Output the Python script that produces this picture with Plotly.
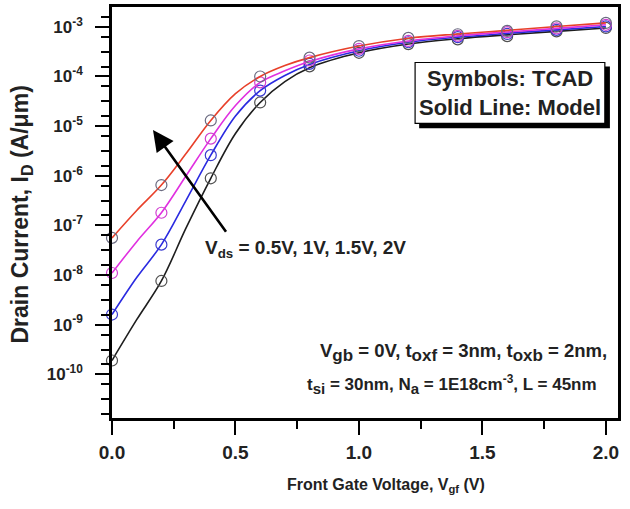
import plotly.graph_objects as go

# Front-gate transfer characteristics, I_D vs V_gf, for four drain biases
vds_labels = ["0.5V", "1V", "1.5V", "2V"]

# TCAD samples
vgf_tcad = [0.0, 0.2, 0.4, 0.6, 0.8, 1.0, 1.2, 1.4, 1.6, 1.8, 2.0]
id_tcad_05 = [1.9e-10, 7.6e-9, 8.9e-7, 3.0e-5, 1.6e-4, 3.0e-4, 4.5e-4, 5.6e-4, 6.5e-4, 8.1e-4, 9.5e-4]
id_tcad_10 = [1.6e-9, 4.1e-8, 2.6e-6, 5.2e-5, 1.8e-4, 3.3e-4, 4.9e-4, 6.2e-4, 7.2e-4, 8.7e-4, 1.02e-3]
id_tcad_15 = [1.1e-8, 1.8e-7, 5.6e-6, 7.6e-5, 2.1e-4, 3.6e-4, 5.2e-4, 6.6e-4, 7.8e-4, 9.3e-4, 1.1e-3]
id_tcad_20 = [5.6e-8, 6.5e-7, 1.3e-5, 1.0e-4, 2.4e-4, 4.1e-4, 6.0e-4, 7.1e-4, 8.3e-4, 1.02e-3, 1.2e-3]

# Analytical model
vgf_model = [0.0, 0.1, 0.2, 0.3, 0.4, 0.5, 0.6, 0.7, 0.8, 1.0, 1.2, 1.4, 1.6, 1.8, 2.0]
id_model_05 = [1.9e-10, 1.26e-9, 7.6e-9, 8.9e-8, 8.9e-7, 7.1e-6, 3.0e-5, 7.9e-5, 1.5e-4, 3.0e-4, 4.5e-4, 5.75e-4, 6.9e-4, 8.1e-4, 9.5e-4]
id_model_10 = [1.6e-9, 8.9e-9, 4.1e-8, 3.2e-7, 2.6e-6, 1.6e-5, 5.2e-5, 1.05e-4, 1.75e-4, 3.3e-4, 4.9e-4, 6.2e-4, 7.4e-4, 8.7e-4, 1.02e-3]
id_model_15 = [1.1e-8, 4.7e-8, 1.8e-7, 1.0e-6, 5.6e-6, 2.6e-5, 7.6e-5, 1.3e-4, 2.0e-4, 3.6e-4, 5.2e-4, 6.6e-4, 7.9e-4, 9.3e-4, 1.1e-3]
id_model_20 = [5.6e-8, 2.0e-7, 6.5e-7, 2.8e-6, 1.3e-5, 4.5e-5, 1.0e-4, 1.66e-4, 2.4e-4, 4.1e-4, 5.9e-4, 7.2e-4, 8.5e-4, 1.02e-3, 1.2e-3]

line_colors = ["#1e1e1e", "#2a2ae0", "#e030e0", "#e8402a"]
marker_colors = ["#505050", "#3a3ad0", "#d040d0", "#6a6a80"]

x_ticks = [0.0, 0.5, 1.0, 1.5, 2.0]
y_exponents = [-10, -9, -8, -7, -6, -5, -4, -3]

FONT = "Liberation Sans, Arial, sans-serif"
TXT = "#222222"


def sub(s, px):
    return f'<sub><span style="font-size:{px}px">{s}</span></sub>'


fig = go.Figure()

model_sets = [id_model_05, id_model_10, id_model_15, id_model_20]
tcad_sets = [id_tcad_05, id_tcad_10, id_tcad_15, id_tcad_20]

for lab, ym, yt, lc, mc in zip(vds_labels, model_sets, tcad_sets, line_colors, marker_colors):
    fig.add_trace(go.Scatter(
        x=vgf_model, y=ym, mode="lines", name=f"Model {lab}",
        line=dict(color=lc, width=1.6, shape="spline", smoothing=1.0),
        showlegend=False,
    ))
    fig.add_trace(go.Scatter(
        x=vgf_tcad, y=yt, mode="markers", name=f"TCAD {lab}",
        marker=dict(symbol="circle-open", size=11, color=mc, line=dict(width=1.2, color=mc)),
        cliponaxis=False, showlegend=False,
    ))

# minor ticks between decades
minor_y = []
for e in range(-11, -2):
    for f in (0.2, 0.5, 0.8):
        v = 10 ** (e + f)
        if 10 ** -10.88 < v < 10 ** -2.6:
            minor_y.append(v)

fig.update_xaxes(
    range=[0, 2.049],
    showline=True, linewidth=2.5, linecolor="black", mirror=True,
    showgrid=False, zeroline=False,
    ticks="outside", ticklen=14, tickwidth=2, tickcolor="black",
    tickvals=x_ticks, ticktext=[f"{v:.1f}" for v in x_ticks],
    tickfont=dict(family=FONT, size=19, color=TXT, weight="bold"),
    ticklabelstandoff=1,
    minor=dict(ticks="outside", ticklen=8, tickwidth=2, tickcolor="black", dtick=0.25, tick0=0),
)
fig.update_yaxes(
    type="log", range=[-10.88, -2.6],
    showline=True, linewidth=2.5, linecolor="black", mirror=True,
    showgrid=False, zeroline=False,
    ticks="outside", ticklen=14, tickwidth=2, tickcolor="black",
    tickvals=[10 ** e for e in y_exponents],
    ticktext=[f"10<sup>{e}</sup>" for e in y_exponents],
    tickfont=dict(family=FONT, size=17, color=TXT, weight="bold"),
    ticklabelstandoff=9,
    minor=dict(ticks="outside", ticklen=8, tickwidth=2, tickcolor="black",
               tickmode="array", tickvals=minor_y),
)

annotations = [
    dict(text="Front Gate Voltage, V<sub>gf</sub> (V)", x=0.5415, y=-0.164,
         xref="paper", yref="paper", xanchor="center", yanchor="middle", showarrow=False,
         font=dict(family=FONT, size=16, color=TXT, weight="bold")),
    dict(text="Drain Current, I<sub>D</sub> (A/μm)", x=-0.178, y=0.495,
         xref="paper", yref="paper", xanchor="center", yanchor="middle",
         showarrow=False, textangle=-90,
         font=dict(family=FONT, size=23, color=TXT, weight="bold")),
    dict(text="Symbols: TCAD<br>Solid Line: Model", x=0.787, y=0.791,
         xref="paper", yref="paper", xanchor="center", yanchor="middle",
         showarrow=False, align="center",
         font=dict(family=FONT, size=22, color=TXT, weight="bold")),
    dict(text="V<sub>ds</sub> = 0.5V, 1V, 1.5V, 2V", x=0.180, y=0.411,
         xref="paper", yref="paper", xanchor="left", yanchor="middle", showarrow=False,
         font=dict(family=FONT, size=19, color=TXT, weight="bold")),
    dict(text=f"V{sub('gb', 17)} = 0V, t{sub('oxf', 17)} = 3nm, t{sub('oxb', 17)} = 2nm,",
         x=0.407, y=0.160, xref="paper", yref="paper", xanchor="left", yanchor="middle",
         showarrow=False, font=dict(family=FONT, size=18.5, color=TXT, weight="bold")),
    dict(text=f"t{sub('si', 15)} = 30nm, N{sub('a', 15)} = 1E18cm<sup>-3</sup>, L = 45nm",
         x=0.381, y=0.081, xref="paper", yref="paper", xanchor="left", yanchor="middle",
         showarrow=False, font=dict(family=FONT, size=17, color=TXT, weight="bold")),
    # arrow indicating increasing drain bias
    dict(text="", x=0.166, y=-5.08, xref="x", yref="y",
         ax=0.466, ay=-7.16, axref="x", ayref="y",
         showarrow=True, arrowhead=2, arrowsize=1.6, arrowwidth=2.6, arrowcolor="black"),
]

shapes = [
    dict(type="rect", xref="paper", yref="paper", x0=0.607, x1=0.984, y0=0.705, y1=0.855,
         fillcolor="black", line=dict(width=0), layer="above"),
    dict(type="rect", xref="paper", yref="paper", x0=0.599, x1=0.974, y0=0.717, y1=0.865,
         fillcolor="white", line=dict(color="black", width=1.2), layer="above"),
]

fig.update_layout(
    width=630, height=509,
    margin=dict(l=112, r=12, t=4, b=91),
    paper_bgcolor="white", plot_bgcolor="white",
    annotations=annotations, shapes=shapes,
    showlegend=False,
)

fig.write_html("out.html")
